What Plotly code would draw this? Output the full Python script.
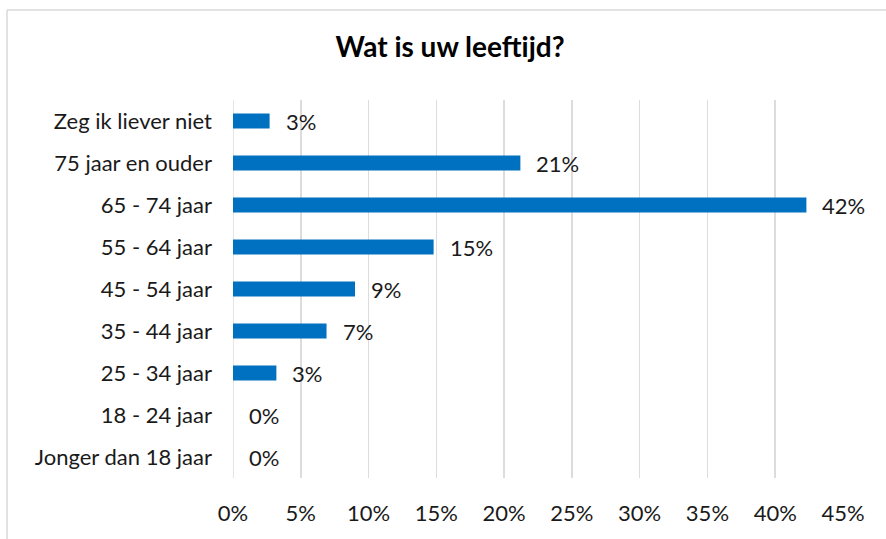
import plotly.graph_objects as go

categories = ["Jonger dan 18 jaar", "18 - 24 jaar", "25 - 34 jaar", "35 - 44 jaar",
              "45 - 54 jaar", "55 - 64 jaar", "65 - 74 jaar", "75 jaar en ouder",
              "Zeg ik liever niet"]
values = [0.0, 0.0, 0.032, 0.069, 0.090, 0.148, 0.423, 0.212, 0.027]
labels = ["0%", "0%", "3%", "7%", "9%", "15%", "42%", "21%", "3%"]
tick_vals = [0, 0.05, 0.10, 0.15, 0.20, 0.25, 0.30, 0.35, 0.40, 0.45]
tick_text = ["0%", "5%", "10%", "15%", "20%", "25%", "30%", "35%", "40%", "45%"]

FONT = "Lato"
FS = 22
TXT = "#1a1a1a"
W, H = 886, 539
L, R, T, B = 233, 43, 100, 61
pw, ph = W - L - R, H - T - B

fig = go.Figure()
fig.add_trace(go.Bar(
    y=categories, x=values, orientation="h",
    marker=dict(color="#0070C0", line=dict(width=0)),
    hoverinfo="skip",
))
for c, v, t in zip(categories, values, labels):
    fig.add_annotation(x=v, y=c, text=t, xanchor="left", yanchor="middle",
                       xshift=14, showarrow=False,
                       font=dict(family=FONT, size=FS, color=TXT))

# outer border (cropped chart frame)
bx = (7 - L) / pw
by = (H - B - 10) / ph
fig.add_shape(type="line", xref="paper", yref="paper", x0=bx, x1=bx, y0=-1, y1=by,
              line=dict(color="#D9D9D9", width=1.5))
fig.add_shape(type="line", xref="paper", yref="paper", x0=bx, x1=2, y0=by, y1=by,
              line=dict(color="#D9D9D9", width=1.5))

fig.update_layout(
    width=W, height=H,
    margin=dict(l=L, r=R, t=T, b=B),
    paper_bgcolor="white", plot_bgcolor="white",
    bargap=0.64,
    showlegend=False,
    title=dict(text="<b>Wat is uw leeftijd?</b>", x=450 / W, xanchor="center",
               y=1 - 47 / H, yanchor="middle",
               font=dict(family=FONT, size=28, color="#000000")),
    font=dict(family=FONT, size=FS, color=TXT),
    xaxis=dict(range=[0, 0.45], tickvals=tick_vals, ticktext=tick_text,
               showgrid=True, gridcolor="#DCDCDC", gridwidth=1.5,
               zeroline=False, showline=False, ticks="",
               ticklabelstandoff=20,
               tickfont=dict(family=FONT, size=FS, color=TXT)),
    yaxis=dict(categoryorder="array", categoryarray=categories,
               showgrid=False, zeroline=False, showline=False, ticks="",
               ticklabelstandoff=20,
               tickfont=dict(family=FONT, size=FS, color=TXT)),
)
fig.add_shape(type="line", xref="x", yref="paper", x0=0, x1=0, y0=0, y1=1,
              line=dict(color="#DCDCDC", width=1.5), layer="below")

fig.write_html("out.html", config={"displayModeBar": False, "staticPlot": True},
               post_script="document.body.style.margin='0';document.body.style.overflow='hidden';")
